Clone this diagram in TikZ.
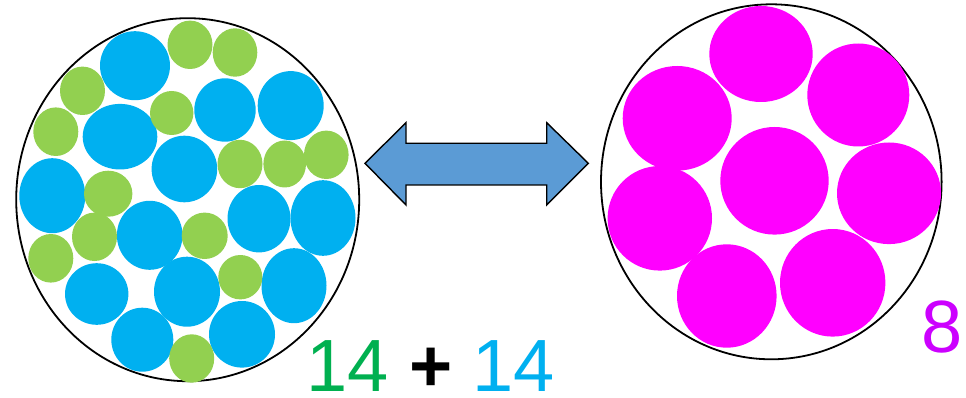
\documentclass[tikz,border=0pt]{standalone}
\usepackage{fontspec}
\setmainfont{Liberation Sans}
\definecolor{bball}{HTML}{00B0F0}
\definecolor{gball}{HTML}{92D050}
\definecolor{mball}{HTML}{FF00FF}
\definecolor{gtext}{HTML}{00B050}
\definecolor{ptext}{HTML}{CC00FF}
\definecolor{arrowfill}{HTML}{5B9BD5}
\begin{document}
\begin{tikzpicture}[x=1pt,y=-1pt,
  outer/.style={draw=black,line width=1.8pt},
  bluedot/.style={fill=bball},
  greendot/.style={fill=gball},
  magdot/.style={fill=mball},
  numtext/.style={inner sep=0pt,text depth=0pt,font=\fontsize{74}{74}\selectfont}]
\useasboundingbox (0,0) rectangle (966,398);
% outlines
\draw[outer] (187.7,199.7) ellipse [x radius=171.5, y radius=181.5];
\draw[outer] (771.3,181.8) ellipse [x radius=170.3, y radius=177.5];
% blue
\foreach \cx/\cy/\rx/\ry in {135/65.7/35/34.5, 225/110/30.7/31.7, 290.7/105.6/33/34.5,
  120/136.7/37.3/32.8, 184.4/169/32.8/33.3, 52.3/195.7/33/37.5, 259/218.7/31.5/33.7,
  323/218/32.5/37.8, 149.7/235.3/32.8/34.5, 96.7/294/31.7/30.8, 187/291.7/33/35,
  294/285.7/32.5/37.5, 142.3/339.7/31/32, 242/334.3/33/33.3}
  \fill[bluedot] (\cx,\cy) ellipse [x radius=\rx, y radius=\ry];
% green
\foreach \cx/\cy/\rx/\ry in {190/44.8/22.5/24.2, 235/52.5/22.3/24.2, 82.5/90.8/22.5/24.2,
  171.7/113/21.7/22, 55.8/131.7/22.5/24.3, 240/164/22.5/24.2, 284.7/164/21.3/23.5,
  326.3/154.8/22.3/24.2, 108.2/193.7/24.2/23, 94.5/236.8/22.5/24.2, 204.7/235.8/23/23.2,
  50.8/258.3/22.5/24.3, 240.3/277.2/22/22.2, 191.7/358.5/22.5/24.2}
  \fill[greendot] (\cx,\cy) ellipse [x radius=\rx, y radius=\ry];
% magenta
\foreach \cx/\cy/\rx/\ry in {761/54/51.7/48, 858.3/95/51/51.5, 677.2/118.3/54.5/52.3,
  774.5/180.8/54.2/53.8, 889/193.3/52/50.8, 659.8/218.3/52.2/52.3,
  726.8/296/49.8/51.7, 832.7/282.8/52.7/53.8}
  \fill[magdot] (\cx,\cy) ellipse [x radius=\rx, y radius=\ry];
% double arrow
\draw[fill=arrowfill,draw=black,line width=1.4pt,line join=miter]
  (365,163.3) -- (406,122.7) -- (406,143.3) -- (546.7,143.3) -- (546.7,122.7)
  -- (588.3,163.3) -- (546.7,205) -- (546.7,185) -- (406,185) -- (406,205) -- cycle;
% labels
\node[numtext,anchor=base west] (sum) at (306,391.5)
  {\textcolor{gtext}{14} \textbf{+} \textcolor{bball}{14}};
\node[numtext,anchor=base west,text=ptext] (eight) at (921,352) {8};
\end{tikzpicture}
\end{document}
